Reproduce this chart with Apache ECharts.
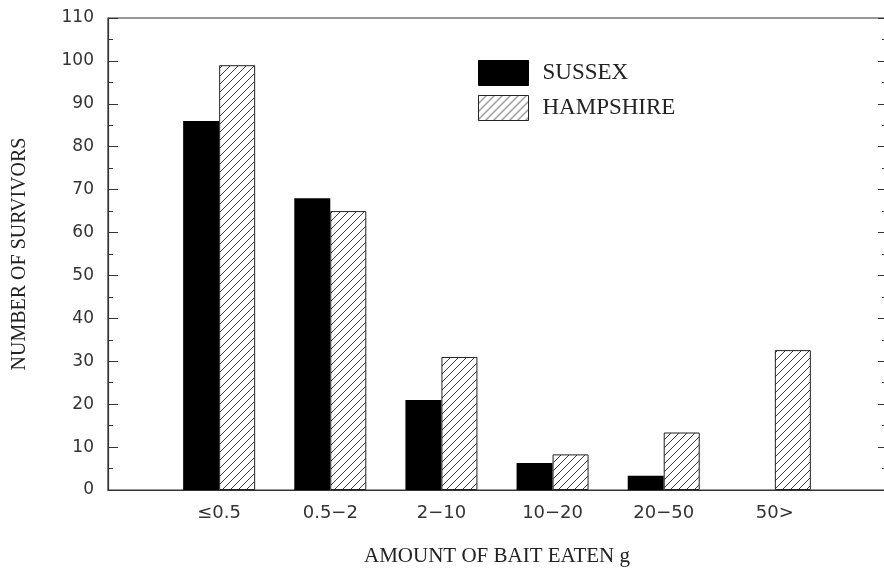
<!DOCTYPE html>
<html>
<head>
<meta charset="utf-8">
<script src="https://cdn.jsdelivr.net/npm/echarts@6/dist/echarts.min.js"></script>
<style>html,body{margin:0;padding:0;background:#fff}#c{width:884px;height:569px}</style>
</head>
<body>
<div id="c"></div>
<script>
var categories = ['', '\u22640.5', '0.5\u22122', '2\u221210', '10\u221220', '20\u221250', '50>', ''];
var sussex = [null, 86, 68, 21, 6.3, 3.3, 0, null];
var hampshire = [null, 99, 65, 31, 8.3, 13.4, 32.6, null];
var yMin = 0, yMax = 110, yStep = 10;

function hatch() {
  var c = document.createElement('canvas');
  c.width = 8; c.height = 8;
  var g = c.getContext('2d');
  g.fillStyle = '#fff'; g.fillRect(0, 0, 8, 8);
  g.strokeStyle = '#3a3a3a'; g.lineWidth = 1;
  g.beginPath();
  g.moveTo(0, 8); g.lineTo(8, 0);
  g.moveTo(-4, 4); g.lineTo(4, -4);
  g.moveTo(4, 12); g.lineTo(12, 4);
  g.stroke();
  return c;
}
var pat = { image: hatch(), repeat: 'repeat' };

var chart = echarts.init(document.getElementById('c'));
var axisCol = '#333';
chart.setOption({
  animation: false,
  backgroundColor: '#fff',
  grid: { left: 108, top: 18, width: 778, bottom: 79, containLabel: false, outerBoundsMode: 'none',
          show: true, borderColor: axisCol, borderWidth: 1.2 },
  legend: {
    orient: 'vertical', left: 478, top: 60, itemWidth: 50, itemHeight: 25, itemGap: 9, padding: 0,
    textStyle: { fontFamily: 'Liberation Serif', fontSize: 23, color: '#222', padding: [0, 0, 0, 9] },
    data: [
      { name: 'SUSSEX', icon: 'rect', itemStyle: { color: '#000', borderColor: '#000', borderWidth: 1 } },
      { name: 'HAMPSHIRE', icon: 'rect', itemStyle: { color: pat, borderColor: '#222', borderWidth: 1 } }
    ]
  },
  xAxis: {
    type: 'category', data: categories, boundaryGap: false,
    axisLine: { lineStyle: { color: axisCol, width: 1.2 } },
    axisTick: { show: false },
    axisLabel: { fontFamily: 'DejaVu Sans', fontSize: 18, color: '#333', margin: 14, interval: 0 },
    name: 'AMOUNT OF BAIT EATEN g', nameLocation: 'middle', nameGap: 56,
    nameTextStyle: { fontFamily: 'Liberation Serif', fontSize: 21, color: '#222' }
  },
  yAxis: [{
    type: 'value', min: yMin, max: yMax, interval: yStep,
    axisLine: { show: true, lineStyle: { color: axisCol, width: 1.2 } },
    axisTick: { show: true, inside: true, length: 10, lineStyle: { color: axisCol } },
    minorTick: { show: true, splitNumber: 2, length: 5, lineStyle: { color: axisCol } },
    splitLine: { show: false },
    axisLabel: { fontFamily: 'DejaVu Sans', fontSize: 17, color: '#333', margin: 14 },
    name: 'NUMBER OF SURVIVORS', nameLocation: 'middle', nameGap: 78,
    nameTextStyle: { fontFamily: 'Liberation Serif', fontSize: 20, color: '#222' }
  }, {
    type: 'value', position: 'right', min: yMin, max: yMax, interval: yStep,
    axisLine: { show: true, lineStyle: { color: axisCol, width: 1.2 } },
    axisTick: { show: true, inside: true, length: 8, lineStyle: { color: axisCol } },
    minorTick: { show: true, splitNumber: 2, length: 4, lineStyle: { color: axisCol } },
    splitLine: { show: false },
    axisLabel: { show: false }
  }],
  series: [
    { name: 'SUSSEX', type: 'bar', data: sussex, barWidth: 36, barGap: '0%',
      itemStyle: { color: '#000', borderWidth: 0 } },
    { name: 'HAMPSHIRE', type: 'bar', data: hampshire, barWidth: 36, barGap: '0%',
      itemStyle: { color: pat, borderColor: '#222', borderWidth: 1 } }
  ]
});
</script>
</body>
</html>
